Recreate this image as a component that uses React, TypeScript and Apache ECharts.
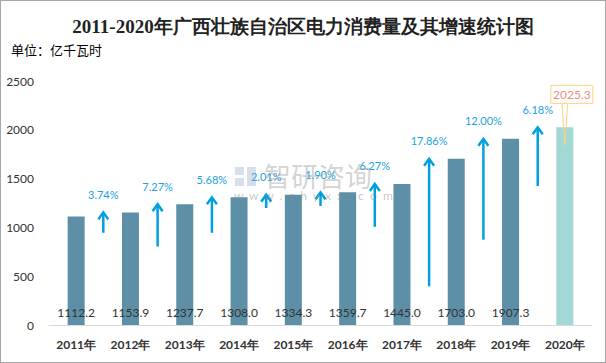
import React, { useEffect, useRef } from "react";
import * as echarts from "echarts";

const years = ["2011年", "2012年", "2013年", "2014年", "2015年", "2016年", "2017年", "2018年", "2019年", "2020年"];
const consumption = [1112.2, 1153.9, 1237.7, 1308.0, 1334.3, 1359.7, 1445.0, 1703.0, 1907.3, 2025.3];
const growthRates = ["3.74%", "7.27%", "5.68%", "2.01%", "1.90%", "6.27%", "17.86%", "12.00%", "6.18%"];
// arrow tail (bottom) values on the left axis, arrows end at next year's consumption
const arrowBottoms = [945, 803, 945, 1199, 1220, 1006, 396, 874, 1423];
const yTicks = { min: 0, max: 2500, interval: 500 };

const BAR = "#5D90A7";
const BAR_LAST = "#A2D8D5";
const ARROW = "#00A0E0";

export default function App() {
  const ref = useRef<HTMLDivElement>(null);
  useEffect(() => {
    document.body.style.margin = "0";
    const chart = echarts.init(ref.current!, undefined, { renderer: "svg" });
    const arrowData = growthRates.map((r, i) => [i + 1, arrowBottoms[i], consumption[i + 1], r]);
    const lastIdx = consumption.length - 1;
    const wmFill = "rgba(150,150,150,0.42)";
    const logoFill = "rgba(140,160,200,0.35)";
    chart.setOption({
      animation: false,
      backgroundColor: "#ffffff",
      title: {
        text: "2011-2020年广西壮族自治区电力消费量及其增速统计图",
        left: "center",
        top: 11,
        textStyle: { fontFamily: "'Liberation Serif', serif", fontSize: 19, fontWeight: "bold", color: "#222" },
      },
      graphic: [
        {
          type: "text",
          left: 10,
          top: 42,
          style: { text: "单位：亿千瓦时", fontSize: 13, fill: "#000", fontFamily: "'Noto Sans CJK SC', sans-serif" },
        },
        { type: "rect", z: 20, silent: true, shape: { x: 234, y: 166, width: 9, height: 8 }, style: { fill: logoFill } },
        { type: "rect", z: 20, silent: true, shape: { x: 234, y: 177, width: 9, height: 8 }, style: { fill: logoFill } },
        { type: "rect", z: 20, silent: true, shape: { x: 246, y: 166, width: 9, height: 19 }, style: { fill: logoFill } },
        {
          type: "text",
          z: 20,
          silent: true,
          x: 263,
          y: 161,
          style: {
            text: "智研咨询",
            font: "27px 'Noto Sans CJK SC', sans-serif",
            fill: wmFill,
          },
        },
        {
          type: "text",
          z: 20,
          silent: true,
          x: 233,
          y: 188,
          style: {
            text: "w  w  w  .  c  h  y  x  x  .  c  o  m",
            font: "12px Lato, sans-serif",
            fill: "rgba(140,140,140,0.5)",
          },
        },
      ],
      grid: { left: 48, right: 13, top: 80, bottom: 37 },
      xAxis: {
        type: "category",
        data: years,
        axisLine: { lineStyle: { color: "#D9D9D9" } },
        axisTick: { show: false },
        axisLabel: { color: "#333", fontWeight: "bold", fontSize: 12, margin: 13, fontFamily: "Lato, sans-serif" },
      },
      yAxis: {
        type: "value",
        min: yTicks.min,
        max: yTicks.max,
        interval: yTicks.interval,
        splitLine: { show: false },
        axisLine: { show: false },
        axisTick: { show: false },
        axisLabel: {
          color: "#333",
          fontSize: 12,
          margin: 15,
          fontFamily: "Lato, sans-serif",
          formatter: (v: number) => String(v),
        },
      },
      series: [
        {
          type: "bar",
          barWidth: 17,
          data: consumption.map((v, i) => ({
            value: v,
            itemStyle: { color: i === lastIdx ? BAR_LAST : BAR },
            label: { show: i !== lastIdx },
          })),
          label: {
            show: true,
            position: "insideBottom",
            distance: 7,
            color: "#333",
            fontSize: 12,
            fontFamily: "Lato, sans-serif",
            formatter: (p: any) => p.value.toFixed(1),
          },
        },
        {
          type: "custom",
          data: arrowData,
          encode: { x: 0, y: 2 },
          renderItem: (params: any, api: any) => {
            const idx = api.value(0);
            const half = api.size([1, 0])[0] / 2;
            const top = api.coord([idx, api.value(2)]);
            const bot = api.coord([idx, api.value(1)]);
            const x = top[0] - half;
            const label = arrowData[params.dataIndex][3] as string;
            return {
              type: "group",
              children: [
                { type: "line", shape: { x1: x, y1: bot[1], x2: x, y2: top[1] + 1 }, style: { stroke: ARROW, lineWidth: 2.5 } },
                {
                  type: "polyline",
                  shape: { points: [[x - 5, top[1] + 7], [x, top[1]], [x + 5, top[1] + 7]] },
                  style: { stroke: ARROW, lineWidth: 2.5, fill: "none" },
                },
                {
                  type: "text",
                  x: x,
                  y: top[1] - 18,
                  style: {
                    text: label,
                    fill: "#1AA3E0",
                    fontSize: 11,
                    fontFamily: "Lato, sans-serif",
                    align: "center",
                    verticalAlign: "middle",
                  },
                },
              ],
            };
          },
          z: 5,
        },
        {
          type: "custom",
          data: [[lastIdx, consumption[lastIdx]]],
          encode: { x: 0, y: 1 },
          renderItem: (params: any, api: any) => {
            const p = api.coord([api.value(0), api.value(1)]);
            const tipX = p[0];
            const tipY = p[1] + 18;
            const cx = p[0] + 7;
            const cy = p[1] - 33;
            const w = 42;
            const h = 18;
            return {
              type: "group",
              children: [
                {
                  type: "polygon",
                  shape: { points: [[cx - 10, cy + h / 2 - 1], [tipX, tipY], [cx - 4, cy + h / 2 - 1]] },
                  style: { fill: "rgba(255,255,255,0)", stroke: "#FFD27F", lineWidth: 1 },
                },
                {
                  type: "rect",
                  shape: { x: cx - w / 2, y: cy - h / 2, width: w, height: h },
                  style: { fill: "#fff", stroke: "#FFD27F", lineWidth: 1 },
                },
                {
                  type: "text",
                  x: cx,
                  y: cy,
                  style: {
                    text: String(api.value(1).toFixed(1)),
                    fill: "#F08C7E",
                    fontSize: 12,
                    fontFamily: "Lato, sans-serif",
                    align: "center",
                    verticalAlign: "middle",
                  },
                },
              ],
            };
          },
          z: 6,
        },
      ],
    });
    return () => chart.dispose();
  }, []);
  return (
    <div
      ref={ref}
      style={{ width: 606, height: 363, boxSizing: "border-box", border: "1px solid #A6A6A6" }}
    />
  );
}
